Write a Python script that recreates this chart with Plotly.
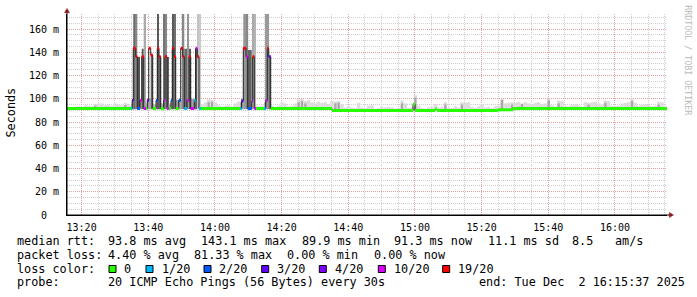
import bisect
from datetime import datetime, timedelta
import plotly.graph_objects as go

# ---------------- data ----------------
DAY = "2025-12-02"
window_start = "13:15:37"
window_end = "16:15:37"

# median RTT samples (step function: each value holds until the next sample)
sample_time = [
    "13:15:37",
    "13:34:49", "13:35:12", "13:35:30", "13:36:14", "13:36:42", "13:37:31", "13:38:02", "13:38:38",
    "13:39:19", "13:39:42", "13:40:08", "13:40:44", "13:41:20", "13:42:19", "13:42:42", "13:43:13",
    "13:43:44", "13:44:38", "13:45:01", "13:45:37", "13:46:08", "13:46:49", "13:47:12", "13:47:43",
    "13:48:14", "13:49:08", "13:49:44", "13:50:20", "13:50:48", "13:51:37", "13:52:13", "13:52:44",
    "13:53:48", "13:54:14", "13:54:42", "13:55:13", "13:55:49",
    "14:07:31", "14:07:58", "14:08:30", "14:09:19", "14:09:50", "14:11:02", "14:11:20", "14:11:48",
    "14:12:19", "14:14:43", "14:15:14", "14:15:42", "14:16:08", "14:16:44",
    "14:35:07", "14:59:25", "15:00:01", "15:06:01", "15:06:37", "15:24:55", "15:29:25", "16:15:07",
]
median_ms = [
    91.6,
    91.6, 98.5, 143.4, 136.2, 91.6, 98.5, 136.2, 91.6,
    91.6, 98.5, 143.4, 137.6, 91.6, 98.5, 143.4, 136.2,
    91.6, 98.5, 136.2, 91.6, 91.6, 98.5, 143.4, 136.2,
    91.6, 98.5, 143.4, 136.2, 91.6, 98.5, 136.2, 91.6,
    98.5, 143.4, 136.2, 91.6, 91.6,
    91.6, 98.0, 143.4, 136.2, 91.6, 98.0, 136.2, 91.6,
    91.6, 91.6, 98.3, 143.4, 136.2, 91.6,
    89.9, 95.3, 89.9, 91.2, 89.9, 90.5, 91.6, 91.3,
]
loss_of_20 = [
    0,
    1, 3, 19, 19, 2, 10, 19, 10,
    0, 3, 19, 19, 0, 2, 19, 19,
    0, 10, 19, 10, 0, 2, 19, 19,
    0, 2, 19, 19, 1, 10, 19, 10,
    1, 10, 19, 1, 0,
    1, 3, 19, 10, 2, 10, 19, 10,
    0, 1, 10, 19, 3, 0,
    0, 0, 0, 0, 0, 0, 0, 0,
]
# per-sample smoke (spread of the 20 pings): top in ms and shade density 0..1
smoke_top_ms = [
    None,
    96, 100, 180, 180, 136, 99, 143, 180,
    95, 100, 100, 137.6, 95, 100, 180, 136.2,
    96, 180, 180, 136, 96, 100, 180, 180,
    99, 100, 99, 180, 143, 180, 143, 100,
    100, 143.4, 180, 180, None,
    97, 100, 180, 180, 142, 100, 180, 180,
    None, 97, 180, 180, 136.2, None,
    None, None, None, None, None, None, None, None,
]
smoke_density = [
    None,
    0.3, 0.4, 0.8, 0.6, 0.95, 0.4, 0.9, 0.37,
    0.2, 0.5, 0.4, 0.85, 0.2, 0.5, 0.9, 0.85,
    0.3, 0.73, 0.6, 0.85, 0.3, 0.5, 0.9, 0.75,
    0.4, 0.5, 0.4, 0.6, 0.8, 0.5, 0.9, 0.4,
    0.4, 0.85, 0.2, 0.15, None,
    0.3, 0.5, 0.5, 0.6, 0.85, 0.4, 0.37, 0.3,
    None, 0.3, 0.47, 0.47, 0.85, None,
    None, None, None, None, None, None, None, None,
]

# background smoke, one value per minute from window start (outer, light)
minute_smoke_top_ms = [
    92.5, 93.0, 92.5, 93.5, 93.0, 94.5, 94.0, 93.5, 95.5, 96.0,
    96.0, 94.5, 95.5, 94.0, 96.0, 95.0, 94.5, 96.5, 95.5, 94.0,
    95.0, 96.0, 95.0, 96.5, 95.0, 96.0, 95.5, 96.0, 95.0, 96.5,
    95.5, 96.0, 95.0, 96.5, 95.5, 96.0, 95.0, 96.5, 95.5, 96.0,
    95.0, 97.0, 99.5, 99.0, 97.0, 94.5, 93.5, 94.0, 94.5, 93.5,
    96.0, 97.5, 95.5, 96.0, 95.0, 96.5, 95.0, 93.5, 94.0, 95.5,
    95.0, 94.0, 93.0, 94.0, 97.0, 96.0, 93.5, 94.0, 96.0, 99.5,
    100.0, 98.0, 99.0, 97.0, 96.0, 97.5, 96.5, 97.0, 95.5, 98.0,
    97.5, 98.0, 95.0, 92.5, 93.5, 92.5, 92.0, 96.5, 92.5, 92.0,
    94.0, 94.5, 91.5, 92.0, 93.0, 92.5, 93.0, 92.5, 91.5, 92.0,
    98.5, 96.0, 92.0, 93.0, 103.0, 94.0, 92.0, 91.5, 92.5, 93.0,
    95.5, 92.5, 93.0, 97.0, 92.5, 92.0, 93.5, 92.5, 97.0, 96.5,
    97.0, 93.0, 92.0, 93.5, 95.5, 92.5, 93.0, 92.0, 93.5, 94.0,
    100.0, 96.0, 96.5, 97.0, 96.5, 97.5, 96.0, 97.0, 96.0, 95.5,
    96.5, 97.0, 95.5, 96.0, 100.0, 94.5, 93.5, 98.5, 98.0, 94.0,
    93.5, 95.0, 95.5, 94.5, 93.0, 97.0, 96.5, 97.0, 97.5, 96.0,
    95.0, 98.5, 98.0, 94.0, 93.5, 94.0, 96.0, 96.5, 97.0, 100.0,
    96.5, 94.0, 95.0, 95.5, 94.5, 93.5, 94.0, 97.5, 97.0, 94.0,
]
# darker smoke core at a few minutes
core_minute = [8, 17, 42, 43, 69, 70, 71, 80, 81, 100, 104, 113, 118, 130, 133, 136, 144, 147, 156, 161, 169, 177]
core_top_ms = [94, 94.5, 97, 97.5, 97, 98, 96, 96, 96.5, 96, 101, 95, 95, 99, 95, 95.5, 98.5, 96, 95, 96.5, 98, 95]

loss_levels = [0, 1, 2, 3, 4, 10, 19]

y_tick_values = [0, 20, 40, 60, 80, 100, 120, 140, 160]
y_tick_text = ["0\u00a0\u00a0", "20 m", "40 m", "60 m", "80 m", "100 m", "120 m", "140 m", "160 m"]

median_rtt_stats = [93.8, 143.1, 89.9, 91.3]   # avg max min now (ms)
rtt_sd_ms = 11.1
am_per_s = 8.5
packet_loss_stats = [4.40, 81.33, 0.00, 0.00]  # avg max min now (%)
probe_text = "20 ICMP Echo Pings (56 Bytes) every 30s"
end_text = "end: Tue Dec\u00a0\u00a02 16:15:37 2025"

# ---------------- styles ----------------
LOSS_COLORS = {0: "#26ff00", 1: "#00b8ff", 2: "#0059ff", 3: "#5e00ff",
               4: "#7e00ff", 10: "#dd00ff", 19: "#ff0000"}
MONO = "DejaVu Sans Mono"
PL, PT, PW, PH = 67, 14, 600, 201  # plot area in px


def ts(hms):
    return datetime.strptime(f"{DAY} {hms}", "%Y-%m-%d %H:%M:%S")


def gray(d):
    g = int(round(225 - 150 * d))
    return f"rgb({g},{g},{g})"


def px(xp):
    return (xp - PL) / PW


def py(yp):
    return (PT + PH - yp) / PH


t_start, t_end = ts(window_start), ts(window_end)
S = [ts(t) for t in sample_time]
E = S[1:] + [t_end]

fig = go.Figure()

# background smoke per minute
mx, mb, mh, mw = [], [], [], []
for m, top in enumerate(minute_smoke_top_ms):
    t0 = t_start + timedelta(minutes=m)
    idx = bisect.bisect_right(S, t0 + timedelta(seconds=30)) - 1
    base = median_ms[idx]
    mx.append(t0 + timedelta(seconds=30))
    mb.append(base)
    mh.append(max(top - base, 0))
    mw.append(60000)
fig.add_trace(go.Bar(x=mx, base=mb, y=mh, width=mw, marker=dict(color="#dcdcdc", line=dict(width=0))))

cx, cb, ch, cw = [], [], [], []
for m, top in zip(core_minute, core_top_ms):
    t0 = t_start + timedelta(minutes=m)
    idx = bisect.bisect_right(S, t0 + timedelta(seconds=30)) - 1
    base = median_ms[idx]
    cx.append(t0 + timedelta(seconds=30))
    cb.append(base)
    ch.append(max(top - base, 0))
    cw.append(40000)
fig.add_trace(go.Bar(x=cx, base=cb, y=ch, width=cw, marker=dict(color="#a8a8a8", line=dict(width=0))))

# per-sample smoke
sx, sb, sh, sw, sc = [], [], [], [], []
for s, e, top, d in zip(S, E, smoke_top_ms, smoke_density):
    if top is None:
        continue
    w = (e - s).total_seconds() * 1000
    sx.append(s + (e - s) / 2)
    sb.append(91.0)
    sh.append(top - 91.0)
    sw.append(w)
    sc.append(gray(d))
fig.add_trace(go.Bar(x=sx, base=sb, y=sh, width=sw, marker=dict(color=sc, line=dict(width=0))))

# black median step line
fig.add_trace(go.Scatter(x=S + [t_end], y=median_ms + [median_ms[-1]], mode="lines",
                         line=dict(color="#202020", width=1, shape="hv")))

# colored median segments by loss
for lv in loss_levels:
    xs, ys = [], []
    for s, e, v, l in zip(S, E, median_ms, loss_of_20):
        if l == lv:
            xs += [s, e, None]
            ys += [v, v, None]
    if xs:
        fig.add_trace(go.Scatter(x=xs, y=ys, mode="lines", connectgaps=False,
                                 line=dict(color=LOSS_COLORS[lv], width=3)))

MAJOR = "#e3a1a1"
MINOR = "#cfcfcf"
fig.update_layout(
    width=697, height=297,
    margin=dict(l=PL, r=697 - PL - PW, t=PT, b=297 - PT - PH, pad=0),
    paper_bgcolor="white", plot_bgcolor="white",
    showlegend=False, barmode="overlay",
    font=dict(family=MONO, size=10, color="black"),
    xaxis=dict(
        type="date", range=[t_start, t_end],
        tick0=f"{DAY} 13:20:00", dtick=20 * 60 * 1000, tickformat="%H:%M",
        showgrid=True, gridcolor=MAJOR, griddash="1px,1px", gridwidth=1,
        minor=dict(dtick=5 * 60 * 1000, tick0=f"{DAY} 13:20:00", showgrid=True,
                   gridcolor=MINOR, griddash="1px,1px", gridwidth=1),
        showline=True, linecolor="black", linewidth=1, zeroline=False, ticks="",
        ticklabelstandoff=3, tickfont=dict(family=MONO, size=10, color="black"),
    ),
    yaxis=dict(
        range=[0, 172.9], tickvals=y_tick_values, ticktext=y_tick_text,
        showgrid=True, gridcolor=MAJOR, griddash="1px,1px", gridwidth=1,
        minor=dict(dtick=5, tick0=0, showgrid=True, gridcolor=MINOR, griddash="1px,1px", gridwidth=1),
        showline=True, linecolor="black", linewidth=1, zeroline=False, ticks="",
        ticklabelstandoff=5, tickfont=dict(family=MONO, size=10, color="black"),
    ),
)

ARROW = "#8b1a1a"
shapes = [
    dict(type="line", xref="paper", yref="paper", x0=px(67), x1=px(67), y0=py(215), y1=py(12),
         line=dict(color="black", width=1)),
    dict(type="line", xref="paper", yref="paper", x0=px(67), x1=px(670), y0=py(215), y1=py(215),
         line=dict(color="black", width=1)),
    dict(type="path", xref="paper", yref="paper",
         path=f"M {px(64.5)} {py(12.7)} L {px(69.5)} {py(12.7)} L {px(67)} {py(8.5)} Z",
         fillcolor=ARROW, line=dict(color=ARROW, width=0.5)),
    dict(type="path", xref="paper", yref="paper",
         path=f"M {px(669.3)} {py(212.5)} L {px(669.3)} {py(217.5)} L {px(673.5)} {py(215)} Z",
         fillcolor=ARROW, line=dict(color=ARROW, width=0.5)),
]

annotations = []
FS = 11.8


def text(s, xl, yc, size=FS, color="black", angle=0, xanchor="left", yanchor="middle"):
    annotations.append(dict(text=s, x=px(xl), y=py(yc), xref="paper", yref="paper",
                            showarrow=False, xanchor=xanchor, yanchor=yanchor, textangle=angle,
                            borderpad=0, font=dict(family=MONO, size=size, color=color)))


R1, R2, R3, R4 = 241.3, 254.7, 269.0, 282.3
text("median rtt:", 16, R1)
for val, lab, xl in zip(median_rtt_stats, ["avg", "max", "min", "now"], [107.3, 200.0, 300.7, 393.3]):
    text(f"{val:.1f} ms {lab}", xl, R1)
text(f"{rtt_sd_ms:.1f} ms sd", 486.7, R1)
text(f"{am_per_s:.1f}", 571.3, R1)
text("am/s", 614.3, R1)

text("packet loss:", 16, R2)
for val, lab, xl in zip(packet_loss_stats, ["avg", "max", "min", "now"], [107.3, 193.0, 286.0, 372.7]):
    text(f"{val:.2f} % {lab}", xl, R2)

text("loss color:", 16, R3)
box_x = [109.0, 146.0, 204.0, 261.7, 319.3, 378.3, 442.7]
lab_x = [123.3, 160.7, 218.3, 276.0, 334.0, 393.3, 457.3]
for lv, bx, lx in zip(loss_levels, box_x, lab_x):
    shapes.append(dict(type="rect", xref="paper", yref="paper", x0=px(bx), x1=px(bx + 7),
                       y0=py(R3 + 3.5), y1=py(R3 - 3.5), fillcolor=LOSS_COLORS[lv],
                       line=dict(color="black", width=1)))
    text("0" if lv == 0 else f"{lv}/20", lx, R3)

text("probe:", 16, R4)
text(probe_text, 107.3, R4)
text(end_text, 478.3, R4)

text("Seconds", 10.5, 113, size=FS, angle=-90, xanchor="center", yanchor="middle")
text("RRDTOOL / TOBI OETIKER", 687.7, 60, size=8.3, color="#bbbbbb", angle=90,
     xanchor="center", yanchor="middle")

fig.update_layout(shapes=shapes, annotations=annotations)
fig.write_html("out.html")
